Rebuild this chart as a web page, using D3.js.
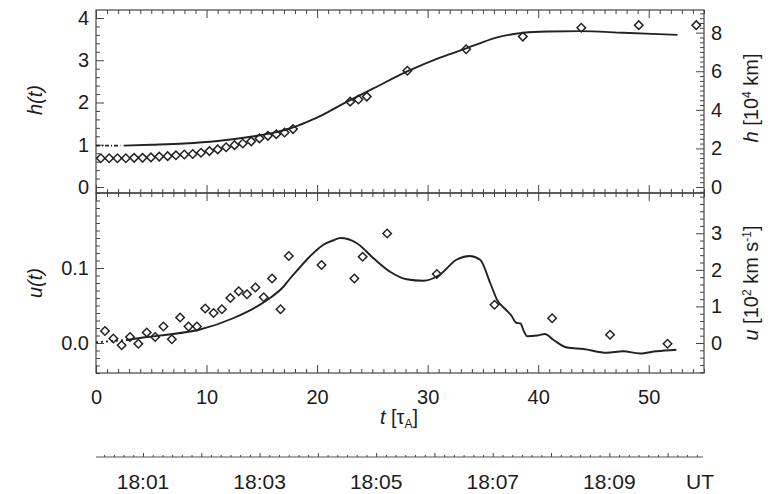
<!DOCTYPE html>
<html>
<head>
<meta charset="utf-8">
<script src="https://cdn.jsdelivr.net/npm/d3@7"></script>
<style>
    body { margin: 0; background: #fff; }
    svg text { font-family: "Liberation Sans", Arial, sans-serif; fill: #1c1c1c; }
</style>
</head>
<body>
<svg id="chart" width="768" height="494"></svg>
<script>
// Observed heights h(t), diamonds in the top panel
const hObsT = [0.43, 1.19, 1.94, 2.70, 3.45, 4.21, 4.97, 5.72, 6.48, 7.23, 7.99, 8.75,
               9.50, 10.26, 11.01, 11.77, 12.53, 13.28, 14.04, 14.79, 15.55, 16.31, 17.06, 17.82,
               22.99, 23.74, 24.50, 28.17, 33.48, 38.61, 43.90, 49.10, 54.30];
const hObs  = [0.68, 0.68, 0.68, 0.68, 0.69, 0.69, 0.70, 0.72, 0.73, 0.75, 0.77, 0.78,
               0.81, 0.85, 0.89, 0.94, 0.99, 1.03, 1.08, 1.15, 1.21, 1.25, 1.29, 1.37,
               2.02, 2.07, 2.14, 2.75, 3.26, 3.56, 3.77, 3.83, 3.83];

// Model h(t), solid line (short dotted stub at the start)
const hFitT = [2.5, 5, 8, 11, 14, 16, 17.6, 19, 20.6, 22, 23.7, 25, 28.2, 31, 33.5, 35, 36.3,
               38.7, 41, 43.8, 47.7, 52.6];
const hFit  = [0.98, 1.00, 1.03, 1.09, 1.19, 1.28, 1.39, 1.53, 1.72, 1.92, 2.15, 2.32, 2.74,
               3.05, 3.28, 3.43, 3.54, 3.65, 3.68, 3.69, 3.65, 3.60];
const hStubT = [0, 2.2];
const hStub  = [0.98, 0.98];

// Observed velocities u(t), diamonds in the bottom panel
const uObsT = [0.81, 1.57, 2.32, 3.08, 3.83, 4.59, 5.35, 6.10, 6.86, 7.61, 8.37, 9.13, 9.88,
               10.64, 11.39, 12.15, 12.91, 13.66, 14.42, 15.17, 15.93, 16.69, 17.44,
               20.40, 23.37, 24.12, 26.34, 30.83, 36.05, 41.26, 46.50, 51.70];
const uObs  = [0.016, 0.006, -0.003, 0.008, -0.001, 0.014, 0.008, 0.022, 0.005, 0.034, 0.022,
               0.022, 0.046, 0.040, 0.045, 0.060, 0.069, 0.065, 0.074, 0.061, 0.086, 0.045,
               0.116, 0.104, 0.086, 0.115, 0.146, 0.092, 0.051, 0.033, 0.011, -0.001];

// Model u(t)
const uFitT = [2.8, 4.6, 6.4, 9.4, 12.4, 15.45, 16.95, 17.56, 18.46, 19.06, 19.97, 20.57, 21.5,
               22.1, 23.6, 25.1, 26.6, 28.1, 29.6, 31.1, 32.6, 33.8, 34.75, 35.66, 36.3, 37.1,
               37.6, 38.0, 38.4, 38.7, 39.0, 39.9, 40.6, 41.4, 42.6, 44.1, 46.2, 47.7, 49.2,
               50.7, 52.5];
const uFit  = [0.004, 0.008, 0.011, 0.018, 0.033, 0.057, 0.075, 0.086, 0.101, 0.111, 0.124,
               0.131, 0.137, 0.140, 0.133, 0.113, 0.095, 0.085, 0.083, 0.091, 0.111, 0.116,
               0.111, 0.080, 0.057, 0.044, 0.036, 0.027, 0.026, 0.016, 0.009, 0.010, 0.012,
               0.004, -0.006, -0.008, -0.013, -0.011, -0.014, -0.011, -0.009];
const uStubT = [0, 2.8];
const uStub  = [0.001, 0.004];

// Axis ticks
const tTicks = [0, 10, 20, 30, 40, 50];
const hTicks = [0, 1, 2, 3, 4];
const hKmTicks = [0, 2, 4, 6, 8];
const uTicks = [0, 0.1];
const uKmsTicks = [0, 1, 2, 3];
const utLabelMin = [1, 3, 5, 7, 9];
const utLabels = ["18:01", "18:03", "18:05", "18:07", "18:09"];

// unit conversions for the right-hand axes
const H_KM = 2.19;    // 1 h-unit in 10^4 km
const U_KMS = 20.5;   // 1 u-unit in 10^2 km/s

const svg = d3.select('#chart');
const L = 96, R = 704, T = 10, M = 193, B = 373;
const FS = 20;
const INK = '#1c1c1c';

const x = d3.scaleLinear().domain([0, 55]).range([L, R]);
const yH = d3.scaleLinear().domain([-0.142, 4.189]).range([M, T]);
const yHkm = d3.scaleLinear().domain(yH.domain().map(v => v * H_KM)).range([M, T]);
const yU = d3.scaleLinear().domain([-0.04, 0.2]).range([B, M]);
const yUkms = d3.scaleLinear().domain(yU.domain().map(v => v * U_KMS)).range([B, M]);
// UT clock in minutes after 18:00
const ut = d3.scaleLinear().domain([0.194, 10.624]).range([L, R]);

function inDomain(scale, v) {
    const [a, b] = scale.domain();
    return v >= Math.min(a, b) && v <= Math.max(a, b);
}

/**
 * Draw one set of ticks with d3's axis generator; labels only when fmt given
 */
function ticks(axisFn, scale, values, size, tx, ty, fmt, pad) {
    const ax = axisFn(scale)
        .tickValues(values.filter(v => inDomain(scale, v)))
        .tickSize(size)
        .tickSizeOuter(0)
        .tickPadding(pad || 6)
        .tickFormat(fmt || (() => ''));
    const g = svg.append('g')
        .attr('transform', `translate(${tx},${ty})`)
        .call(ax);
    g.select('.domain').remove();
    g.selectAll('line').attr('stroke', '#444').attr('stroke-width', 1);
    g.selectAll('text')
        .attr('font-size', FS)
        .attr('font-family', '"Liberation Sans", Arial, sans-serif')
        .attr('fill', INK);
    return g;
}

const notIn = (arr, eps) => v => !arr.some(a => Math.abs(a - v) < eps);
const tMinor = d3.range(0, 56).filter(notIn(tTicks, 1e-6));
const hMinor = d3.range(-1, 22).map(i => i / 5).filter(notIn(hTicks, 1e-6));
const hKmMinor = d3.range(-1, 37).map(i => i / 4).filter(notIn(hKmTicks, 1e-6));
const uMinor = d3.range(-4, 21).map(i => i / 100).filter(notIn(uTicks, 1e-6));
const uKmsMinor = d3.range(-4, 21).map(i => i / 5).filter(notIn(uKmsTicks, 1e-6));

// frames
[[T, M], [M, B]].forEach(([a, b]) => {
    svg.append('rect')
        .attr('x', L).attr('y', a)
        .attr('width', R - L).attr('height', b - a)
        .attr('fill', 'none')
        .attr('stroke', '#333')
        .attr('stroke-width', 1.1);
});

// x ticks on every horizontal frame line
ticks(d3.axisTop, x, tTicks, -8, 0, T);
ticks(d3.axisTop, x, tMinor, -4, 0, T);
ticks(d3.axisBottom, x, tTicks, -8, 0, M);
ticks(d3.axisBottom, x, tMinor, -4, 0, M);
ticks(d3.axisTop, x, tTicks, -8, 0, M);
ticks(d3.axisTop, x, tMinor, -4, 0, M);
ticks(d3.axisBottom, x, tTicks, -8, 0, B, d3.format('d'), 17);
ticks(d3.axisBottom, x, tMinor, -4, 0, B);

// top panel y axes
ticks(d3.axisLeft, yH, hTicks, -8, L, 0, d3.format('d'), 7);
ticks(d3.axisLeft, yH, hMinor, -4, L, 0);
ticks(d3.axisRight, yHkm, hKmTicks, -8, R, 0, d3.format('d'), 7);
ticks(d3.axisRight, yHkm, hKmMinor, -4, R, 0);

// bottom panel y axes
ticks(d3.axisLeft, yU, uTicks, -8, L, 0, d3.format('.1f'), 7);
ticks(d3.axisLeft, yU, uMinor, -4, L, 0);
ticks(d3.axisRight, yUkms, uKmsTicks, -8, R, 0, d3.format('d'), 7);
ticks(d3.axisRight, yUkms, uKmsMinor, -4, R, 0);

// curves
const zip = (a, b) => a.map((v, i) => [v, b[i]]);
function drawCurve(xs, ys, yScale, dash) {
    const line = d3.line()
        .x(d => x(d[0]))
        .y(d => yScale(d[1]))
        .curve(d3.curveMonotoneX);
    svg.append('path')
        .datum(zip(xs, ys))
        .attr('d', line)
        .attr('fill', 'none')
        .attr('stroke', '#222')
        .attr('stroke-width', 1.9)
        .attr('stroke-dasharray', dash || null);
}
drawCurve(hStubT, hStub, yH, '4,2,1,2');
drawCurve(hFitT, hFit, yH);
drawCurve(uStubT, uStub, yU, '2,3');
drawCurve(uFitT, uFit, yU);

// diamonds
const diamond = d3.symbol().type(d3.symbolSquare).size(36);
function drawDiamonds(xs, ys, yScale) {
    svg.append('g')
        .selectAll('path')
        .data(zip(xs, ys))
        .join('path')
        .attr('d', diamond)
        .attr('transform', d => `translate(${x(d[0])},${yScale(d[1])}) rotate(45)`)
        .attr('fill', 'none')
        .attr('stroke', '#222')
        .attr('stroke-width', 1.5);
}
drawDiamonds(hObsT, hObs, yH);
drawDiamonds(uObsT, uObs, yU);

// axis titles
function rotLabel(cx, cy, parts) {
    const t = svg.append('text')
        .attr('transform', `translate(${cx},${cy}) rotate(-90)`)
        .attr('text-anchor', 'middle')
        .attr('font-size', FS);
    parts.forEach(p => {
        const s = t.append('tspan').text(p.text);
        if (p.italic) s.attr('font-style', 'italic');
        if (p.sup) s.attr('font-size', 12).attr('dy', -7);
        if (p.after) s.attr('dy', 7);
    });
}
rotLabel(42, 100, [{ text: 'h(t)', italic: true }]);
rotLabel(42, 283, [{ text: 'u(t)', italic: true }]);
rotLabel(758, 98, [
    { text: 'h', italic: true }, { text: ' [10' },
    { text: '4', sup: true }, { text: ' km]', after: true }
]);
rotLabel(758, 283, [
    { text: 'u', italic: true }, { text: ' [10' },
    { text: '2', sup: true }, { text: ' km s', after: true },
    { text: '-1', sup: true }, { text: ']', after: true }
]);

// x title: t [tau_A]
const xt = svg.append('text')
    .attr('x', 399).attr('y', 424)
    .attr('text-anchor', 'middle')
    .attr('font-size', FS);
xt.append('tspan').attr('font-style', 'italic').text('t');
xt.append('tspan').text('  [τ');
xt.append('tspan').attr('font-size', 12).attr('dy', 4).text('A');
xt.append('tspan').attr('dy', -4).text(']');

// UT time axis
const utMinor = d3.range(2, 64).map(i => i / 6).filter(v => Math.abs(v - Math.round(v)) > 1e-6);
const utMajor = d3.range(1, 11);
svg.append('line')
    .attr('x1', ut(0.194)).attr('x2', 703)
    .attr('y1', 457).attr('y2', 457)
    .attr('stroke', '#555').attr('stroke-width', 1.2);
ticks(d3.axisTop, ut, utMajor, 4, 0, 457);
ticks(d3.axisTop, ut, utMinor, 2, 0, 457);
svg.append('g')
    .selectAll('text')
    .data(utLabelMin)
    .join('text')
    .attr('x', d => ut(d))
    .attr('y', 489)
    .attr('text-anchor', 'middle')
    .attr('font-size', 21)
    .text((d, i) => utLabels[i]);
svg.append('text')
    .attr('x', 700).attr('y', 489)
    .attr('text-anchor', 'middle')
    .attr('font-size', 21)
    .text('UT');
</script>
</body>
</html>
